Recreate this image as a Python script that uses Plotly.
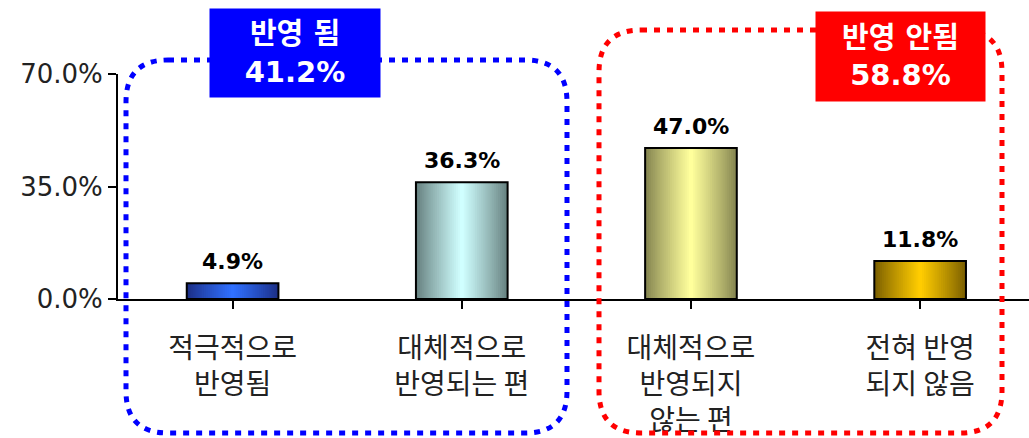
import plotly.graph_objects as go

categories = ["적극적으로<br>반영됨", "대체적으로<br>반영되는 편", "대체적으로<br>반영되지<br>않는 편", "전혀 반영<br>되지 않음"]
values = [4.9, 36.3, 47.0, 11.8]
value_labels = ["4.9%", "36.3%", "47.0%", "11.8%"]
edge_colors = ["#1c2f86", "#66807f", "#848450", "#7a5e00"]
center_colors = ["#3070ff", "#d0ffff", "#ffff9c", "#ffcc00"]
y_ticks = [0, 35, 70]
group_titles = ["반영 됨<br>41.2%", "반영 안됨<br>58.8%"]

W, H = 1029, 438
L, R, T, B = 118, 0, 74, 139
PW, PH = W - L - R, H - T - B
BAR_W = 0.40
N = 24


def hex2rgb(h):
    h = h.lstrip("#")
    return tuple(int(h[i:i + 2], 16) for i in (0, 2, 4))


def lerp(c1, c2, t):
    a, b = hex2rgb(c1), hex2rgb(c2)
    return "rgb(%d,%d,%d)" % tuple(round(a[i] + (b[i] - a[i]) * t) for i in range(3))


fig = go.Figure()
xs = list(range(len(categories)))
for k in range(N):
    t = k / (N - 1)
    w = BAR_W * (1 - k / N)
    fig.add_trace(go.Bar(
        x=xs, y=values, width=w,
        marker=dict(color=[lerp(e, c, t ** 0.9) for e, c in zip(edge_colors, center_colors)],
                    line=dict(width=0)),
        hoverinfo="skip", showlegend=False))

fig.add_trace(go.Bar(
    x=xs, y=values, width=BAR_W,
    marker=dict(color="rgba(0,0,0,0)", line=dict(color="black", width=2)),
    showlegend=False))

for x, v, lab in zip(xs, values, value_labels):
    fig.add_annotation(x=x, y=v, text=lab, showarrow=False, yanchor="bottom", yshift=7,
                       font=dict(family="DejaVu Sans", size=22, color="black", weight="bold"))


def px(xp):
    return (xp - L) / PW


def py(yp):
    return (H - B - yp) / PH


def rrect(x0, y0, x1, y1, r):
    rx, ry = r / PW, r / PH
    X0, X1 = px(x0), px(x1)
    Yt, Yb = py(y0), py(y1)
    return (f"M {X0+rx},{Yt} L {X1-rx},{Yt} Q {X1},{Yt} {X1},{Yt-ry} "
            f"L {X1},{Yb+ry} Q {X1},{Yb} {X1-rx},{Yb} "
            f"L {X0+rx},{Yb} Q {X0},{Yb} {X0},{Yb+ry} "
            f"L {X0},{Yt-ry} Q {X0},{Yt} {X0+rx},{Yt} Z")


fig.add_shape(type="path", xref="paper", yref="paper", path=rrect(126, 60, 567, 433, 42),
              line=dict(color="#0000ff", width=5, dash="6px,7px"))
fig.add_shape(type="path", xref="paper", yref="paper", path=rrect(599, 30, 1002, 433, 42),
              line=dict(color="#ff0000", width=5, dash="6px,7px"))

boxes = [(210, 9, 380, 97, "#0000ff"), (816, 12, 985, 101, "#ff0000")]
for (x0, y0, x1, y1, col), txt in zip(boxes, group_titles):
    fig.add_annotation(xref="paper", yref="paper", x=px((x0 + x1) / 2), y=py((y0 + y1) / 2),
                       xanchor="center", yanchor="middle", text=txt, showarrow=False,
                       width=x1 - x0, height=y1 - y0, bgcolor=col, borderpad=0,
                       font=dict(family="DejaVu Sans, Noto Sans CJK KR", size=29,
                                 color="white", weight="bold"))

fig.update_layout(
    width=W, height=H, margin=dict(l=L, r=R, t=T, b=B),
    paper_bgcolor="white", plot_bgcolor="white", barmode="overlay",
    showlegend=False,
    xaxis=dict(range=[-0.5, 3.475], tickvals=xs, ticktext=categories, showline=True,
               linecolor="black", linewidth=2, ticks="outside", tickson="boundaries",
               ticklen=8, tickwidth=1.5, tickcolor="black", showgrid=False, zeroline=False,
               ticklabelstandoff=15, automargin=False,
               tickfont=dict(family="Noto Sans CJK KR", size=28, color="#222")),
    yaxis=dict(range=[0, 70], tickvals=y_ticks, ticktext=[f"{v:.1f}%" for v in y_ticks],
               showline=True, linecolor="black", linewidth=2, ticks="outside", ticklen=8,
               tickwidth=2, tickcolor="black", showgrid=False, zeroline=False, automargin=False,
               tickfont=dict(family="DejaVu Sans", size=26, color="#222")),
)

fig.write_html("out.html", config={"displayModeBar": False},
               post_script="document.body.style.margin='0';document.body.style.padding='0';")
